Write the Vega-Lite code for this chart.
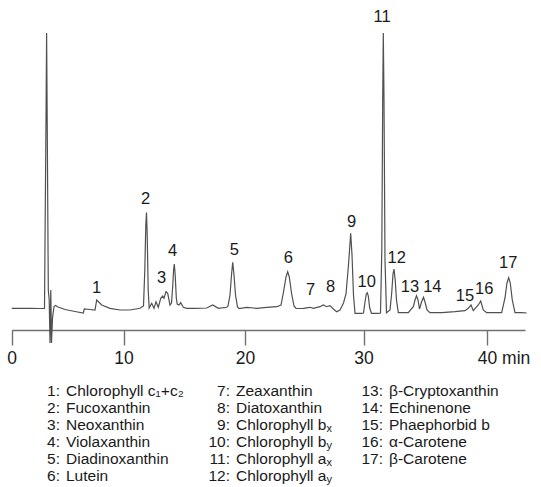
{
  "$schema": "https://vega.github.io/schema/vega-lite/v6.json",
  "width": 541,
  "height": 330,
  "autosize": {"type": "none"},
  "padding": {"left": 0, "top": 0, "right": 0, "bottom": 157},
  "background": "white",
  "config": {"view": {"stroke": null}, "font": "Liberation Sans"},
  "datasets": {
    "trace": [
      {"t": 0, "s": 21.7}, {"t": 0.742, "s": 21.7}, {"t": 1.637, "s": 21.7}, {"t": 2.531, "s": 21.5}, {"t": 2.934, "s": 21.5},
      {"t": 3.068, "s": 210}, {"t": 3.122, "s": 297}, {"t": 3.175, "s": 210}, {"t": 3.274, "s": 40}, {"t": 3.354, "s": 30},
      {"t": 3.426, "s": -13}, {"t": 3.497, "s": 40}, {"t": 3.56, "s": -13}, {"t": 3.65, "s": 12}, {"t": 3.784, "s": 23.5},
      {"t": 3.918, "s": 24.5}, {"t": 4.142, "s": 23}, {"t": 4.768, "s": 20.5}, {"t": 5.662, "s": 18.5}, {"t": 6.405, "s": 17},
      {"t": 6.494, "s": 21}, {"t": 7.004, "s": 20.5}, {"t": 7.451, "s": 20}, {"t": 7.603, "s": 30}, {"t": 8.05, "s": 25},
      {"t": 8.793, "s": 21.7}, {"t": 9.687, "s": 20}, {"t": 10.535, "s": 20}, {"t": 11.358, "s": 21.7}, {"t": 11.646, "s": 24},
      {"t": 11.753, "s": 60}, {"t": 11.835, "s": 105}, {"t": 11.893, "s": 117.5}, {"t": 11.951, "s": 95}, {"t": 12.033, "s": 40},
      {"t": 12.115, "s": 22}, {"t": 12.321, "s": 26.7}, {"t": 12.51, "s": 21.7}, {"t": 12.675, "s": 28.3}, {"t": 12.864, "s": 22.7},
      {"t": 13.062, "s": 31.7}, {"t": 13.226, "s": 34}, {"t": 13.333, "s": 31.7}, {"t": 13.498, "s": 38.3}, {"t": 13.638, "s": 36.7},
      {"t": 13.827, "s": 25}, {"t": 13.951, "s": 27}, {"t": 14.058, "s": 45}, {"t": 14.123, "s": 60}, {"t": 14.181, "s": 66},
      {"t": 14.255, "s": 55}, {"t": 14.346, "s": 32}, {"t": 14.42, "s": 26}, {"t": 14.568, "s": 25}, {"t": 14.708, "s": 27.3},
      {"t": 14.922, "s": 22.7}, {"t": 15.202, "s": 21.7}, {"t": 15.885, "s": 21.7}, {"t": 16.848, "s": 22}, {"t": 17.342, "s": 25},
      {"t": 17.802, "s": 21.7}, {"t": 18.494, "s": 22.7}, {"t": 18.601, "s": 24}, {"t": 18.765, "s": 35}, {"t": 18.889, "s": 55},
      {"t": 18.988, "s": 67.7}, {"t": 19.095, "s": 55}, {"t": 19.218, "s": 35}, {"t": 19.383, "s": 23}, {"t": 19.506, "s": 21.5},
      {"t": 20.143, "s": 22.7}, {"t": 20.987, "s": 21.7}, {"t": 21.831, "s": 22.7}, {"t": 22.675, "s": 23.3}, {"t": 23.038, "s": 25},
      {"t": 23.249, "s": 38}, {"t": 23.46, "s": 53}, {"t": 23.603, "s": 58.3}, {"t": 23.738, "s": 53}, {"t": 23.924, "s": 37},
      {"t": 24.135, "s": 24}, {"t": 24.304, "s": 21.5}, {"t": 24.92, "s": 21.7}, {"t": 25.485, "s": 22.7}, {"t": 25.764, "s": 21.7},
      {"t": 26.329, "s": 23.3}, {"t": 26.608, "s": 25}, {"t": 26.895, "s": 23.3}, {"t": 27.173, "s": 24.3}, {"t": 27.452, "s": 21},
      {"t": 27.739, "s": 18.3}, {"t": 28.017, "s": 20}, {"t": 28.312, "s": 27}, {"t": 28.523, "s": 36}, {"t": 28.734, "s": 65},
      {"t": 28.92, "s": 96.7}, {"t": 29.03, "s": 75}, {"t": 29.156, "s": 35}, {"t": 29.283, "s": 16.7}, {"t": 29.848, "s": 16.7},
      {"t": 30.0, "s": 17}, {"t": 30.121, "s": 28}, {"t": 30.227, "s": 36}, {"t": 30.308, "s": 37.3}, {"t": 30.389, "s": 34},
      {"t": 30.502, "s": 22}, {"t": 30.648, "s": 16.7}, {"t": 31.198, "s": 16.7}, {"t": 31.377, "s": 17}, {"t": 31.482, "s": 80},
      {"t": 31.555, "s": 230}, {"t": 31.603, "s": 297}, {"t": 31.66, "s": 230}, {"t": 31.741, "s": 70}, {"t": 31.862, "s": 17.3},
      {"t": 32.146, "s": 20}, {"t": 32.283, "s": 37}, {"t": 32.389, "s": 56}, {"t": 32.47, "s": 61}, {"t": 32.567, "s": 50},
      {"t": 32.672, "s": 30}, {"t": 32.818, "s": 17.3}, {"t": 33.628, "s": 17.3}, {"t": 34.032, "s": 23.3}, {"t": 34.17, "s": 30},
      {"t": 34.291, "s": 34.3}, {"t": 34.413, "s": 30}, {"t": 34.534, "s": 21}, {"t": 34.696, "s": 28}, {"t": 34.858, "s": 32.7},
      {"t": 34.98, "s": 28}, {"t": 35.142, "s": 20}, {"t": 35.385, "s": 17.3}, {"t": 36.332, "s": 17.3}, {"t": 37.409, "s": 18.3},
      {"t": 38.219, "s": 19.3}, {"t": 38.486, "s": 21.7}, {"t": 38.704, "s": 25}, {"t": 38.891, "s": 19.3}, {"t": 39.296, "s": 25},
      {"t": 39.49, "s": 29}, {"t": 39.7, "s": 20}, {"t": 39.976, "s": 17.3}, {"t": 41.19, "s": 17.3}, {"t": 41.457, "s": 32},
      {"t": 41.619, "s": 47}, {"t": 41.757, "s": 52.3}, {"t": 41.887, "s": 47}, {"t": 42.049, "s": 30}, {"t": 42.267, "s": 17.3},
      {"t": 42.81, "s": 17.3}, {"t": 43.215, "s": 17}
    ],
    "peaks": [
      {"peak": "1", "rt": 7.603, "h": 42}, {"peak": "2", "rt": 11.827, "h": 130.7}, {"peak": "3", "rt": 13.144, "h": 51.7},
      {"peak": "4", "rt": 14.049, "h": 79.3}, {"peak": "5", "rt": 19.119, "h": 80}, {"peak": "6", "rt": 23.654, "h": 71.7},
      {"peak": "7", "rt": 25.544, "h": 40}, {"peak": "8", "rt": 27.232, "h": 43.3}, {"peak": "9", "rt": 29.004, "h": 108.3},
      {"peak": "10", "rt": 30.259, "h": 48.3}, {"peak": "11", "rt": 31.5, "h": 313}, {"peak": "12", "rt": 32.688, "h": 71.7},
      {"peak": "13", "rt": 33.765, "h": 43.3}, {"peak": "14", "rt": 35.571, "h": 43.3}, {"peak": "15", "rt": 38.218, "h": 34},
      {"peak": "16", "rt": 39.781, "h": 40.7}, {"peak": "17", "rt": 41.725, "h": 67.3}
    ],
    "compounds": [
      {"num": "1:", "name": "Chlorophyll c₁+c₂", "col": 1, "row": 1},
      {"num": "2:", "name": "Fucoxanthin", "col": 1, "row": 2},
      {"num": "3:", "name": "Neoxanthin", "col": 1, "row": 3},
      {"num": "4:", "name": "Violaxanthin", "col": 1, "row": 4},
      {"num": "5:", "name": "Diadinoxanthin", "col": 1, "row": 5},
      {"num": "6:", "name": "Lutein", "col": 1, "row": 6},
      {"num": "7:", "name": "Zeaxanthin", "col": 2, "row": 1},
      {"num": "8:", "name": "Diatoxanthin", "col": 2, "row": 2},
      {"num": "9:", "name": "Chlorophyll b", "sub": "x", "col": 2, "row": 3},
      {"num": "10:", "name": "Chlorophyll b", "sub": "y", "col": 2, "row": 4},
      {"num": "11:", "name": "Chlorophyll a", "sub": "x", "col": 2, "row": 5},
      {"num": "12:", "name": "Chlorophyll a", "sub": "y", "col": 2, "row": 6},
      {"num": "13:", "name": "β-Cryptoxanthin", "col": 3, "row": 1},
      {"num": "14:", "name": "Echinenone", "col": 3, "row": 2},
      {"num": "15:", "name": "Phaephorbid b", "col": 3, "row": 3},
      {"num": "16:", "name": "α-Carotene", "col": 3, "row": 4},
      {"num": "17:", "name": "β-Carotene", "col": 3, "row": 5}
    ]
  },
  "layer": [
    {
      "data": {"name": "trace"},
      "mark": {"type": "line", "color": "#505050", "strokeWidth": 1.2},
      "encoding": {
        "x": {
          "field": "t", "type": "quantitative",
          "scale": {"type": "linear", "domain": [0, 10, 20, 30, 40, 43.08], "range": [11.7, 123.5, 245, 363.5, 487, 525], "nice": false, "zero": false},
          "axis": {
            "values": [0, 10, 20, 30, 40], "title": null, "grid": false,
            "domainColor": "#707070", "domainWidth": 1.6, "tickColor": "#707070", "tickWidth": 1.4, "tickSize": 15,
            "labelFont": "Liberation Sans", "labelFontSize": 17.5, "labelColor": "#1a1a1a", "labelPadding": 4,
            "labelExpr": "datum.value == 40 ? '40 min' : datum.label",
            "labelOffset": {"condition": {"test": "datum.value == 40", "value": 16.5}, "value": 0},
            "labelFlush": false, "labelOverlap": false, "labelBound": false
          }
        },
        "y": {"field": "s", "type": "quantitative", "scale": {"domain": [0, 330], "nice": false, "zero": false}, "axis": null},
        "order": {"field": "t"}
      }
    },
    {
      "data": {"name": "peaks"},
      "mark": {"type": "text", "fontSize": 16.5, "color": "#1a1a1a", "align": "center", "baseline": "middle", "font": "Liberation Sans"},
      "encoding": {
        "x": {"field": "rt", "type": "quantitative", "scale": {"type": "linear", "domain": [0, 10, 20, 30, 40, 43.08], "range": [11.7, 123.5, 245, 363.5, 487, 525], "nice": false, "zero": false}, "axis": null},
        "y": {"field": "h", "type": "quantitative", "scale": {"domain": [0, 330], "nice": false, "zero": false}, "axis": null},
        "text": {"field": "peak"}
      }
    },
    {
      "data": {"name": "compounds"},
      "mark": {"type": "text", "fontSize": 15.5, "color": "#1a1a1a", "align": "right", "baseline": "middle", "dx": -6, "font": "Liberation Sans"},
      "encoding": {
        "x": {"field": "col", "type": "quantitative", "scale": {"type": "linear", "domain": [1, 2, 3], "range": [66, 236, 389], "nice": false, "zero": false}, "axis": null},
        "y": {"field": "row", "type": "quantitative", "scale": {"domain": [1, 6], "range": [390.5, 475.5], "nice": false, "zero": false}, "axis": null},
        "text": {"field": "num"}
      }
    },
    {
      "data": {"name": "compounds"},
      "mark": {"type": "text", "fontSize": 15.5, "color": "#1a1a1a", "align": "left", "baseline": "middle", "font": "Liberation Sans"},
      "encoding": {
        "x": {"field": "col", "type": "quantitative", "scale": {"type": "linear", "domain": [1, 2, 3], "range": [66, 236, 389], "nice": false, "zero": false}, "axis": null},
        "y": {"field": "row", "type": "quantitative", "scale": {"domain": [1, 6], "range": [390.5, 475.5], "nice": false, "zero": false}, "axis": null},
        "text": {"field": "name"}
      }
    },
    {
      "data": {"name": "compounds"},
      "transform": [{"filter": "datum.sub"}],
      "mark": {"type": "text", "fontSize": 11, "color": "#1a1a1a", "align": "left", "baseline": "middle", "dx": 90.5, "dy": 4.5, "font": "Liberation Sans"},
      "encoding": {
        "x": {"field": "col", "type": "quantitative", "scale": {"type": "linear", "domain": [1, 2, 3], "range": [66, 236, 389], "nice": false, "zero": false}, "axis": null},
        "y": {"field": "row", "type": "quantitative", "scale": {"domain": [1, 6], "range": [390.5, 475.5], "nice": false, "zero": false}, "axis": null},
        "text": {"field": "sub"}
      }
    }
  ],
  "resolve": {"scale": {"x": "independent", "y": "independent"}}
}
